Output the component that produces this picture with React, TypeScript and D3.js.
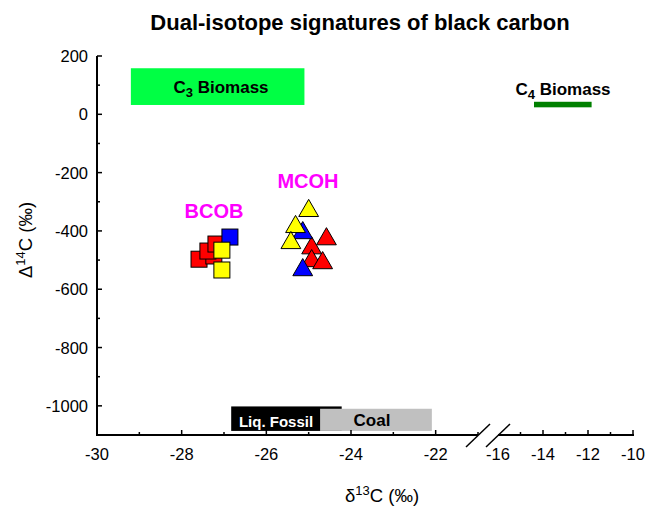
import React from "react";
import * as d3 from "d3";

// tick values
const xTicksLeft = [-30, -28, -26, -24, -22];
const xMinorLeft = [-29, -27, -25, -23, -21];
const xTicksRight = [-16, -14, -12, -10];
const xMinorRight = [-15, -13, -11];
const yTicks = [200, 0, -200, -400, -600, -800, -1000];
const yMinor = [100, -100, -300, -500, -700, -900, -1100];

// BCOB squares (d13C, D14C)
const bcobRed = [
  [-27.59, -497],
  [-27.24, -486],
  [-27.38, -469],
  [-27.19, -445],
];
const bcobBlue = [[-26.86, -421]];
const bcobYellow = [
  [-27.05, -466],
  [-27.05, -534],
];

// MCOH triangles
const mcohRed = [
  [-24.58, -428],
  [-24.93, -459],
  [-24.93, -503],
  [-24.67, -510],
];
const mcohBlue = [
  [-25.14, -407],
  [-25.14, -534],
];
const mcohYellow = [
  [-25.0, -331],
  [-25.31, -386],
  [-25.42, -441],
];

// source end-member ranges: [x0, x1, y0, y1]
const c3Biomass = [-29.2, -25.1, 32, 158];
const c4Biomass = [-14.4, -11.84, 24, 43];
const liqFossil = [-26.83, -24.22, -1086, -1002];
const coal = [-24.73, -22.09, -1086, -1010];

const W = 649;
const H = 508;
const font = "Liberation Sans, Arial, sans-serif";

const App = () => {
  const x = d3
    .scaleLinear()
    .domain([-30, -21, -16, -10])
    .range([97, 478, 498, 633]);
  const y = d3.scaleLinear().domain([200, -1100]).range([56, 435]);

  const x0 = y(-1100);
  const brk1 = x(-21);
  const brk2 = x(-16);

  const box = (r, fill, key) => (
    <rect
      key={key}
      x={x(r[0])}
      y={y(r[3])}
      width={x(r[1]) - x(r[0])}
      height={y(r[2]) - y(r[3])}
      fill={fill}
    />
  );

  const square = (d, fill, i) => (
    <rect
      key={fill + i}
      x={x(d[0]) - 8}
      y={y(d[1]) - 8}
      width={16}
      height={16}
      fill={fill}
      stroke="#000"
      strokeWidth={1}
    />
  );

  const tri = d3.symbol().type(d3.symbolTriangle).size(170)();
  const triangle = (d, fill, i) => (
    <path
      key={"t" + fill + i}
      d={tri}
      transform={`translate(${x(d[0])},${y(d[1])})`}
      fill={fill}
      stroke="#000"
      strokeWidth={1}
    />
  );

  return (
    <svg
      width={W}
      height={H}
      style={{ position: "absolute", left: 0, top: 0, background: "#fff" }}
      fontFamily={font}
    >
      <text x={360} y={30} textAnchor="middle" fontSize={22} fontWeight="bold">
        Dual-isotope signatures of black carbon
      </text>

      {/* source boxes */}
      {box(c3Biomass, "#00ff44", "c3")}
      <text x={221} y={93} textAnchor="middle" fontSize={17} fontWeight="bold">
        C<tspan fontSize={13} dy={4}>3</tspan>
        <tspan dy={-4}> Biomass</tspan>
      </text>
      {box(c4Biomass, "#008000", "c4")}
      <text x={563} y={95} textAnchor="middle" fontSize={17} fontWeight="bold">
        C<tspan fontSize={13} dy={4}>4</tspan>
        <tspan dy={-4}> Biomass</tspan>
      </text>
      {box(liqFossil, "#000", "lf")}
      {box(coal, "#c0c0c0", "coal")}
      <text x={276} y={427} textAnchor="middle" fontSize={15} fontWeight="bold" fill="#fff">
        Liq. Fossil
      </text>
      <text x={372} y={426} textAnchor="middle" fontSize={17} fontWeight="bold">
        Coal
      </text>

      {/* axes */}
      <g stroke="#000" strokeWidth={2} fill="none">
        <line x1={97} x2={97} y1={y(200)} y2={x0 + 1} />
        <line x1={96} x2={brk1} y1={x0} y2={x0} />
        <line x1={brk2} x2={x(-10) + 1} y1={x0} y2={x0} />
      </g>
      <g stroke="#000" strokeWidth={1.5}>
        <line x1={brk1 - 12} y1={x0 + 12} x2={brk1 + 12} y2={x0 - 11} />
        <line x1={brk2 - 12} y1={x0 + 12} x2={brk2 + 12} y2={x0 - 11} />
      </g>
      <g stroke="#000" strokeWidth={1.5}>
        {yTicks.map((t) => (
          <line key={"y" + t} x1={97} x2={102} y1={y(t)} y2={y(t)} />
        ))}
        {yMinor.map((t) => (
          <line key={"ym" + t} x1={97} x2={100} y1={y(t)} y2={y(t)} />
        ))}
        {xTicksLeft.concat(xTicksRight.slice(1)).map((t) => (
          <line key={"x" + t} x1={x(t)} x2={x(t)} y1={x0} y2={x0 - 5} />
        ))}
        {xMinorLeft.concat(xMinorRight).map((t) => (
          <line key={"xm" + t} x1={x(t)} x2={x(t)} y1={x0} y2={x0 - 3} />
        ))}
      </g>
      <g fontSize={16.5} fill="#000">
        {yTicks.map((t) => (
          <text key={"yl" + t} x={88} y={y(t) + 6} textAnchor="end">
            {t}
          </text>
        ))}
        {xTicksLeft.concat(xTicksRight).map((t) => (
          <text key={"xl" + t} x={x(t)} y={x0 + 25} textAnchor="middle">
            {t}
          </text>
        ))}
      </g>

      {/* axis titles */}
      <text x={382} y={502} textAnchor="middle" fontSize={18.5}>
        δ<tspan fontSize={13} dy={-7}>13</tspan>
        <tspan dy={7}>C (‰)</tspan>
      </text>
      <text transform="translate(32,240) rotate(-90)" textAnchor="middle" fontSize={18.5}>
        Δ<tspan fontSize={13} dy={-7}>14</tspan>
        <tspan dy={7}>C (‰)</tspan>
      </text>

      {/* data */}
      {bcobRed.map((d, i) => square(d, "#ff0000", i))}
      {bcobBlue.map((d, i) => square(d, "#0000ff", i))}
      {bcobYellow.map((d, i) => square(d, "#ffff00", i))}
      {mcohRed.map((d, i) => triangle(d, "#ff0000", i))}
      {mcohBlue.map((d, i) => triangle(d, "#0000ff", i))}
      {mcohYellow.map((d, i) => triangle(d, "#ffff00", i))}

      <text x={214} y={218} textAnchor="middle" fontSize={20} fontWeight="bold" fill="#ff00ff">
        BCOB
      </text>
      <text x={308} y={188} textAnchor="middle" fontSize={20} fontWeight="bold" fill="#ff00ff">
        MCOH
      </text>
    </svg>
  );
};

export default App;
